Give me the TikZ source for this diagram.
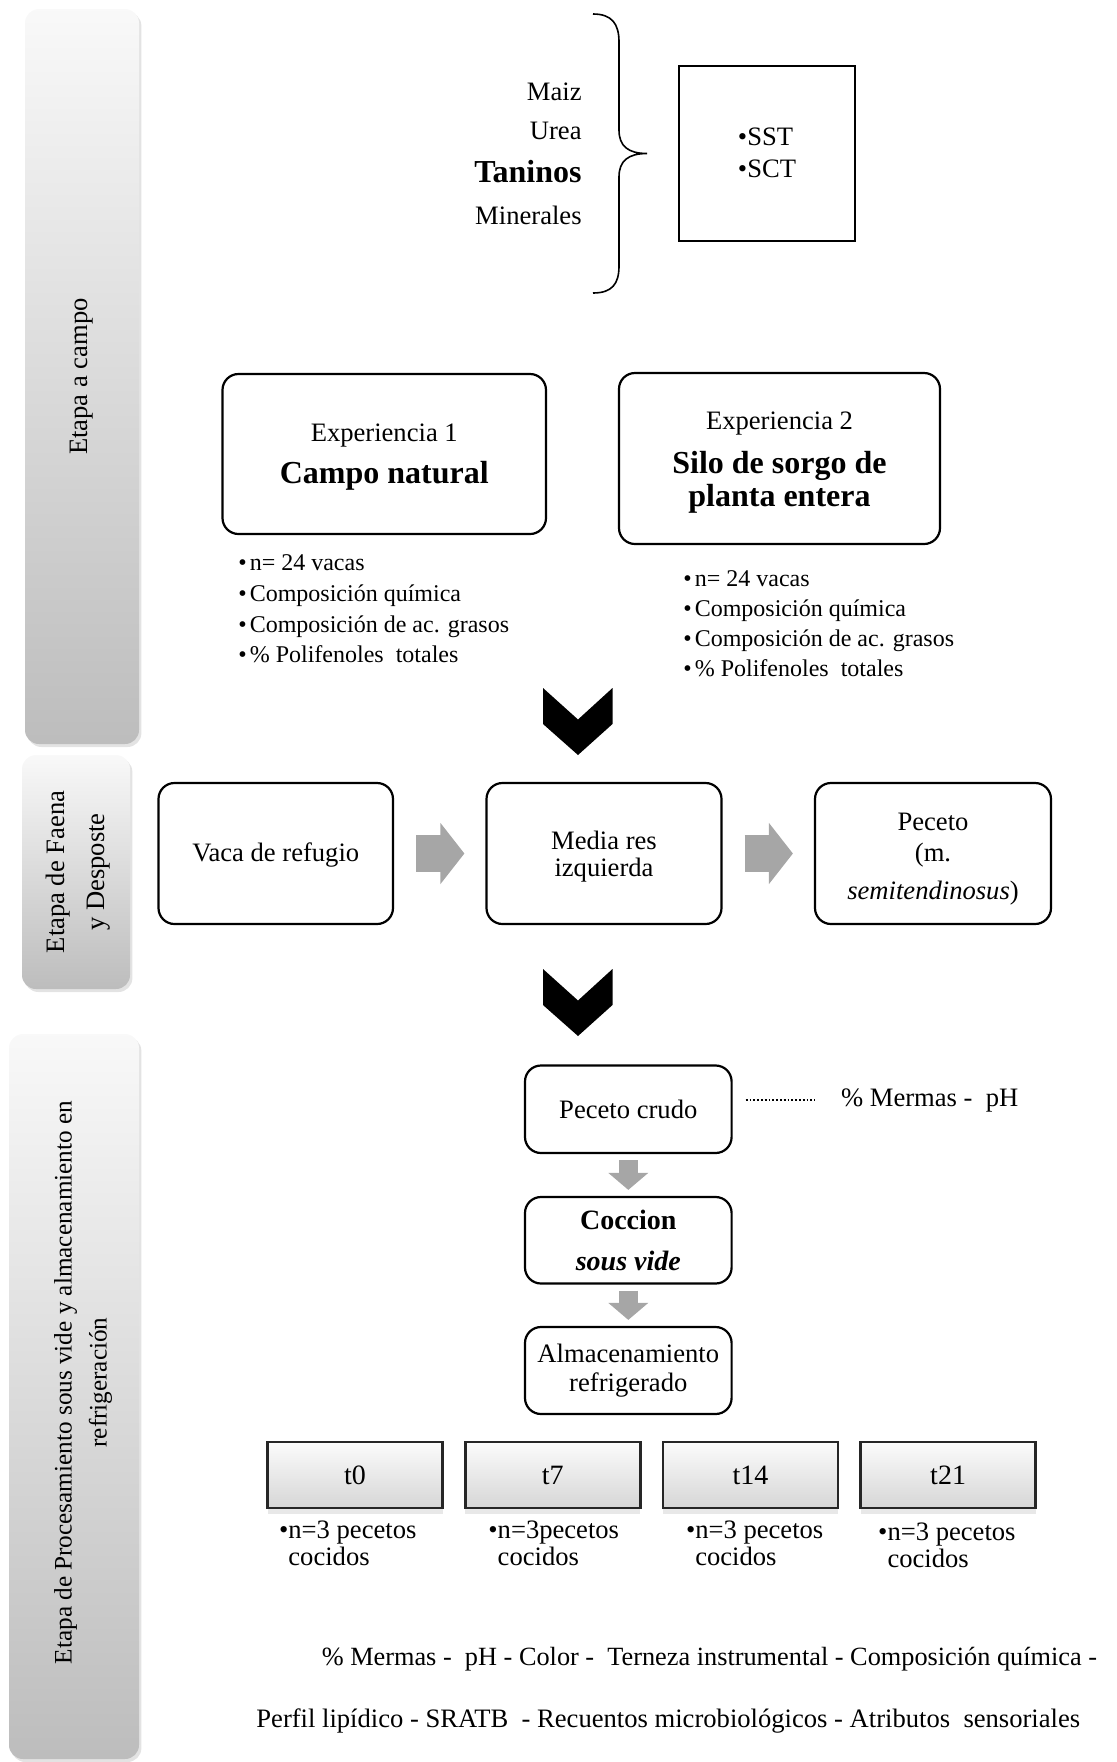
\documentclass[tikz,border=0pt]{standalone}
\usepackage{fontspec}
\setmainfont{Liberation Serif}
\usetikzlibrary{positioning,shadows,arrows.meta,calc}

\newcommand{\txtsize}{\fontsize{13.3}{16}\selectfont}
\newcommand{\bigbold}{\fontsize{16}{18}\selectfont\bfseries}

\tikzset{
  stagebar/.style={rounded corners=7pt, top color=gray!5, bottom color=gray!52,
    drop shadow={shadow xshift=1.2pt, shadow yshift=-1.5pt, opacity=0.22}},
  bartext/.style={font=\txtsize, inner sep=0pt, align=center},
  roundbox/.style={draw, line width=1.1pt, rounded corners=8pt, font=\txtsize, align=center, inner sep=0pt},
  sqbox/.style={draw, line width=1pt, font=\fontsize{13.3}{15.7}\selectfont, align=left, inner sep=0pt},
  plaintext/.style={font=\txtsize, inner sep=0pt},
  listtext/.style={font=\fontsize{12}{15.3}\selectfont, inner sep=0pt, align=left},
  tbox/.style={draw=black!85, line width=1.3pt, top color=gray!3, bottom color=gray!32,
    minimum width=87.5pt, minimum height=33pt, font=\fontsize{14}{16}\selectfont,
    drop shadow={shadow xshift=0pt, shadow yshift=-3pt, opacity=0.18}},
  blockarrow/.style={draw=gray!70, line width=18.5pt, -{Triangle[length=12pt, width=30pt]},
    shorten <=11pt, shorten >=10.5pt},
  downarrow/.style={draw=gray!70, line width=9.5pt, -{Triangle[length=8.5pt, width=19.5pt]},
    shorten <=3pt, shorten >=3pt},
  dotline/.style={densely dotted, line width=0.9pt},
  chevron/.pic={\fill (-35,0) -- (0,31.5) -- (34.5,0) -- (34.5,36) -- (0,67) -- (-35,36) -- cycle;}
}

\begin{document}
\begin{tikzpicture}[x=0.5pt,y=-0.5pt]
\useasboundingbox (0,0) rectangle (1116,1762);

% stage bars on the left
\node[stagebar, minimum width=57pt, minimum height=367.5pt] (barCampo) at (82,376.5) {};
\node[bartext, rotate=90] (txtCampo) at (barCampo.center) {Etapa a campo};
\node[stagebar, minimum width=54pt, minimum height=117pt] (barFaena) at (76,872) {};
\node[bartext, rotate=90, font=\fontsize{13.3}{20}\selectfont] (txtFaena) at ([xshift=1pt]barFaena.center) {Etapa de Faena\\y Desposte};
\node[stagebar, minimum width=65pt, minimum height=362.5pt] (barProc) at (74,1396.5) {};
\node[bartext, rotate=90, font=\fontsize{12.6}{17.5}\selectfont] (txtProc) at ([xshift=4.5pt,yshift=7pt]barProc.center) {Etapa de Procesamiento sous vide y almacenamiento en\\refrigeración};

% diet
\node[plaintext, anchor=east] (maiz) at (582,91.7) {Maiz};
\node[plaintext, anchor=east] (urea) at (582,131) {Urea};
\node[plaintext, anchor=east, font=\bigbold] (taninos) at (582,171.7) {Taninos};
\node[plaintext, anchor=east] (minerales) at (582,215) {Minerales};
\draw[line width=0.8pt] (593,14) .. controls (612,14) and (619,24) .. (619,42) -- (619,130)
  .. controls (619,146) and (628,153.5) .. (647,153.5)
  .. controls (628,153.5) and (619,161) .. (619,177) -- (619,266)
  .. controls (619,284) and (612,293) .. (593,293);
\node[sqbox, minimum width=88pt, minimum height=87.5pt] (solidos) at (767,153) {\textbullet SST\\\textbullet SCT};

% experiences
\node[roundbox, minimum width=161.75pt, minimum height=80pt] (exp1) at (384.25,454) {\rule{0pt}{11.9pt}Experiencia 1\\[5.2pt]{\bigbold Campo natural}};
\node[roundbox, minimum width=160.5pt, minimum height=85.5pt] (exp2) at (779.5,458.5) {\rule{0pt}{12.5pt}Experiencia 2\\[6.1pt]{\bigbold Silo de sorgo de}\\[0.5pt]{\bigbold planta entera}};
\node[listtext, anchor=west] (lista1) at (238,609) {\textbullet\hspace{1.5pt}n= 24 vacas\\\textbullet\hspace{1.5pt}Composición química\\\textbullet\hspace{1.5pt}Composición de ac. grasos\\\textbullet\hspace{1.5pt}\% Polifenoles~ totales};
\node[listtext, anchor=west, font=\fontsize{12}{15}\selectfont] (lista2) at (683,624) {\textbullet\hspace{1.5pt}n= 24 vacas\\\textbullet\hspace{1.5pt}Composición química\\\textbullet\hspace{1.5pt}Composición de ac. grasos\\\textbullet\hspace{1.5pt}\% Polifenoles~ totales};

\pic at (578,688) {chevron};

% faena
\node[roundbox, minimum width=117.25pt, minimum height=70.5pt] (vaca) at (275.75,853.5) {\rule{0pt}{11pt}Vaca de refugio};
\node[roundbox, minimum width=117.5pt, minimum height=70.5pt, font=\fontsize{13.3}{13.5}\selectfont] (media) at (604,853.5) {\rule{0pt}{12.2pt}Media res\\izquierda};
\node[roundbox, minimum width=118pt, minimum height=70.5pt, font=\fontsize{13.3}{15.2}\selectfont] (peceto) at (933,853.5) {\rule{0pt}{14.4pt}Peceto\\(m.\\[3.8pt]\textit{semitendinosus})};
\draw[blockarrow] (vaca.east) -- (media.west);
\draw[blockarrow] (media.east) -- (peceto.west);

\pic at (578,969) {chevron};

% sous vide
\node[roundbox, minimum width=103.3pt, minimum height=43.75pt] (crudo) at (628.3,1109.25) {Peceto crudo};
\node[plaintext, anchor=west] (mermas) at (840.7,1100) {\% Mermas -~ pH};
\draw[dotline, shorten <=6.5pt, shorten >=12.8pt] (crudo.east |- mermas.west) -- (mermas.west);
\node[roundbox, minimum width=103.3pt, minimum height=43.25pt, font=\fontsize{14}{20.75}\selectfont\bfseries] (coccion) at (628.3,1240.25) {Coccion\\\textit{sous vide}};
\node[roundbox, minimum width=103.3pt, minimum height=43.5pt, font=\fontsize{13.3}{14.2}\selectfont] (almac) at (628.3,1370.5) {Almacenamiento\\refrigerado};
\draw[downarrow] (crudo.south) -- (coccion.north);
\draw[downarrow] (coccion.south) -- (almac.north);

% storage days
\foreach \lab [count=\i from 0] in {t0,t7,t14,t21}
  \node[tbox] (\lab) at ({355+197.7*\i},1475) {\lab};
\foreach \bx/\by/\txt [count=\i] in {278.7/1543/n=3 pecetos, 488/1543/n=3pecetos, 685.6/1543/n=3 pecetos, 877.8/1545.5/n=3 pecetos}
  \node[plaintext, anchor=west, align=left, font=\fontsize{13.3}{13.5}\selectfont] (cant\i) at (\bx,\by) {\textbullet\txt\\\hphantom{\textbullet}cocidos};

\node[plaintext, anchor=west, font=\fontsize{13.15}{16}\selectfont] (medidas1) at (321.4,1659) {\% Mermas -~ pH - Color -~ Terneza instrumental - Composición química -};
\node[plaintext, anchor=west] (medidas2) at (256,1720.7) {Perfil lipídico - SRATB~ - Recuentos microbiológicos - Atributos~ sensoriales};
\end{tikzpicture}
\end{document}
